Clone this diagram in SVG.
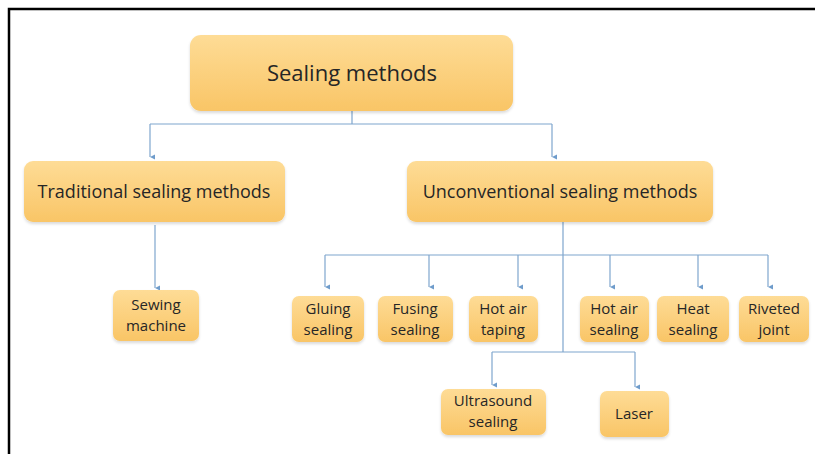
<svg xmlns="http://www.w3.org/2000/svg" width="815" height="454" viewBox="0 0 815 454">
<defs>
<linearGradient id="g" x1="0" y1="0" x2="0" y2="1">
<stop offset="0" stop-color="#FEDC96"/>
<stop offset="1" stop-color="#F9C566"/>
</linearGradient>
<filter id="sh" x="-10%" y="-10%" width="120%" height="130%">
<feGaussianBlur in="SourceAlpha" stdDeviation="1.5"/>
<feOffset dx="0" dy="1.5" result="b"/>
<feComponentTransfer><feFuncA type="linear" slope="0.15"/></feComponentTransfer>
<feMerge><feMergeNode/><feMergeNode in="SourceGraphic"/></feMerge>
</filter>
<marker id="ah" viewBox="0 0 6 6" refX="3" refY="6" markerWidth="6" markerHeight="6" orient="auto-start-reverse" markerUnits="userSpaceOnUse">
<path d="M0.5 1 L3 6 L5.5 1 Z" fill="#6F9CCB"/>
</marker>
</defs>
<style>
.box{fill:url(#g);filter:url(#sh);}
.t{font-family:"Open Sans","Liberation Sans",sans-serif;fill:#262626;text-anchor:middle;}
.big{font-size:22px;}
.mid{font-size:18px;}
.sm{font-size:15px;}
.c{fill:none;stroke:#7FA6CE;stroke-width:1.2;}
</style>
<rect x="9" y="9" width="820" height="460" fill="none" stroke="#000" stroke-width="2.5"/>
<g id="connectors">
<path class="c" d="M352 111 V124 M150 124 H552"/>
<path class="c" d="M150 124 V157" marker-end="url(#ah)"/>
<path class="c" d="M552 124 V157" marker-end="url(#ah)"/>
<path class="c" d="M155 225 V288" marker-end="url(#ah)"/>
<path class="c" d="M563 222 V352 M325 255 H768 M492 352 H635"/>
<path class="c" d="M325 255 V287" marker-end="url(#ah)"/>
<path class="c" d="M429 255 V287" marker-end="url(#ah)"/>
<path class="c" d="M518 255 V287" marker-end="url(#ah)"/>
<path class="c" d="M610 255 V287" marker-end="url(#ah)"/>
<path class="c" d="M698 255 V287" marker-end="url(#ah)"/>
<path class="c" d="M768 255 V287" marker-end="url(#ah)"/>
<path class="c" d="M492 352 V385" marker-end="url(#ah)"/>
<path class="c" d="M635 352 V387" marker-end="url(#ah)"/>
</g>
<g id="n-root"><rect class="box" x="190" y="35" width="323" height="76" rx="11"/><text class="t big" x="352" y="81">Sealing methods</text></g>
<g id="n-trad"><rect class="box" x="24" y="161" width="261" height="61" rx="9"/><text class="t mid" x="154" y="198">Traditional sealing methods</text></g>
<g id="n-unconv"><rect class="box" x="407" y="161" width="306" height="61" rx="9"/><text class="t mid" x="560" y="198">Unconventional sealing methods</text></g>
<g id="n-sewing"><rect class="box" x="113" y="290" width="86" height="51" rx="7"/><text class="t sm" x="156" y="310">Sewing</text><text class="t sm" x="156" y="331">machine</text></g>
<g id="n-gluing"><rect class="box" x="292" y="296" width="72" height="46" rx="7"/><text class="t sm" x="328" y="314">Gluing</text><text class="t sm" x="328" y="335">sealing</text></g>
<g id="n-fusing"><rect class="box" x="378" y="296" width="75" height="46" rx="7"/><text class="t sm" x="415" y="314">Fusing</text><text class="t sm" x="415" y="335">sealing</text></g>
<g id="n-hotairtaping"><rect class="box" x="469" y="296" width="69" height="46" rx="7"/><text class="t sm" x="503" y="314">Hot air</text><text class="t sm" x="503" y="335">taping</text></g>
<g id="n-hotairsealing"><rect class="box" x="580" y="296" width="69" height="46" rx="7"/><text class="t sm" x="614" y="314">Hot air</text><text class="t sm" x="614" y="335">sealing</text></g>
<g id="n-heat"><rect class="box" x="657" y="296" width="72" height="46" rx="7"/><text class="t sm" x="693" y="314">Heat</text><text class="t sm" x="693" y="335">sealing</text></g>
<g id="n-riveted"><rect class="box" x="739" y="296" width="70" height="46" rx="7"/><text class="t sm" x="774" y="314">Riveted</text><text class="t sm" x="774" y="335">joint</text></g>
<g id="n-ultrasound"><rect class="box" x="441" y="389" width="105" height="46" rx="7"/><text class="t sm" x="493" y="406">Ultrasound</text><text class="t sm" x="493" y="427">sealing</text></g>
<g id="n-laser"><rect class="box" x="600" y="391" width="69" height="46" rx="7"/><text class="t sm" x="634" y="419">Laser</text></g>
</svg>
